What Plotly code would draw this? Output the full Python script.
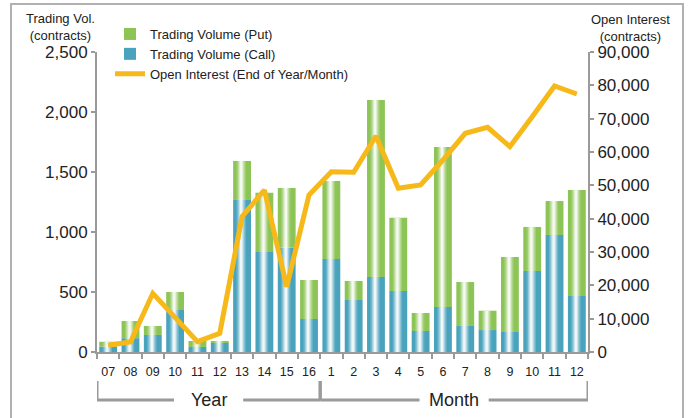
import plotly.graph_objects as go

# ---- data ----
period_labels = ["07", "08", "09", "10", "11", "12", "13", "14", "15", "16",
                 "1", "2", "3", "4", "5", "6", "7", "8", "9", "10", "11", "12"]
period_keys = ["Y07", "Y08", "Y09", "Y10", "Y11", "Y12", "Y13", "Y14", "Y15", "Y16",
               "M1", "M2", "M3", "M4", "M5", "M6", "M7", "M8", "M9", "M10", "M11", "M12"]
n_years = 10
n_months = 12
call_volume = [45, 115, 142, 350, 42, 78, 1267, 833, 869, 275,
               775, 433, 625, 508, 175, 375, 217, 183, 167, 675, 975, 467]
put_volume = [40, 143, 75, 150, 50, 14, 325, 495, 498, 325,
              650, 159, 1475, 611, 150, 1333, 366, 161, 625, 367, 283, 883]
open_interest = [2000, 3000, 17600, 10200, 3100, 5600, 40600, 48600, 19600, 47100,
                 54100, 53900, 64800, 49100, 50100, 57600, 65600, 67400, 61600, 70600, 79800, 77400]
total_volume = [c + p for c, p in zip(call_volume, put_volume)]

CALL_C = "#4aa3bd"
PUT_C = "#8cc455"
LINE_C = "#f6b919"
GRAY = "#9a9a9a"
FONT = "Liberation Sans"

BAR_W = 0.8

fig = go.Figure()
fig.add_bar(x=period_keys, y=call_volume, base=0, width=BAR_W, marker_color=CALL_C,
            marker_line_width=0, name="Trading Volume (Call)", legendrank=2)
fig.add_bar(x=period_keys, y=put_volume, base=call_volume, width=BAR_W, marker_color=PUT_C,
            marker_line_width=0, name="Trading Volume (Put)", legendrank=1)
# glossy stripe overlays
stripe_center = -0.04
for w, op in [(0.42, 0.18), (0.3, 0.3), (0.2, 0.45), (0.1, 0.75)]:
    fig.add_bar(x=period_keys, y=total_volume, base=0, width=w, offset=stripe_center - w / 2,
                marker_color="white", opacity=op, marker_line_width=0, showlegend=False,
                hoverinfo="skip")
fig.add_scatter(x=period_keys, y=open_interest, yaxis="y2", mode="lines",
                line=dict(color=LINE_C, width=5), name="Open Interest (End of Year/Month)",
                legendrank=3)

L, R, T, B = 97, 103, 52, 66
W, H = 691, 418
pw, ph = W - L - R, H - T - B

def px_x(x):
    return (x - L) / pw

def px_y(y):
    return (H - B - y) / ph

shapes = []
# outer frame
shapes.append(dict(type="rect", xref="paper", yref="paper", x0=px_x(11), x1=px_x(683),
                   y0=px_y(430), y1=px_y(4), line=dict(color="#b0b0b0", width=2),
                   fillcolor="rgba(0,0,0,0)", layer="below"))
# brackets
yv0, yv1 = px_y(381), px_y(400)
def bracket(a, b, gap_half):
    c = (a + b) / 2
    return [
        dict(type="line", xref="x", yref="paper", x0=a, x1=a, y0=yv0, y1=yv1),
        dict(type="line", xref="x", yref="paper", x0=b, x1=b, y0=yv0, y1=yv1),
        dict(type="line", xref="x", yref="paper", x0=a, x1=c - gap_half, y0=yv1, y1=yv1),
        dict(type="line", xref="x", yref="paper", x0=c + gap_half, x1=b, y0=yv1, y1=yv1),
    ]
year_a, year_b = -0.5, n_years - 0.5
mon_a, mon_b = n_years - 0.5, n_years + n_months - 0.5
for s in bracket(year_a, year_b, 1.55) + bracket(mon_a, mon_b, 1.55):
    s["line"] = dict(color=GRAY, width=3)
    shapes.append(s)

annotations = [
    dict(text="Year", x=(year_a + year_b) / 2, xref="x", y=yv1, yref="paper",
         showarrow=False, font=dict(size=18, color="#222"), yanchor="middle"),
    dict(text="Month", x=(mon_a + mon_b) / 2, xref="x", y=yv1, yref="paper",
         showarrow=False, font=dict(size=18, color="#222"), yanchor="middle"),
    dict(text="Trading Vol.<br>(contracts)", x=px_x(60), y=px_y(27), xref="paper", yref="paper",
         showarrow=False, font=dict(size=13, color="#222"), xanchor="center", yanchor="middle"),
    dict(text="Open Interest<br>(contracts)", x=px_x(630), y=px_y(28), xref="paper", yref="paper",
         showarrow=False, font=dict(size=13, color="#222"), xanchor="center", yanchor="middle"),
]

fig.update_layout(
    width=W, height=H,
    margin=dict(l=L, r=R, t=T, b=B, pad=0, autoexpand=False),
    paper_bgcolor="white", plot_bgcolor="white",
    barmode="overlay", bargap=0.2,
    font=dict(family=FONT, color="#222"),
    showlegend=True,
    legend=dict(x=px_x(110), y=px_y(19), xanchor="left", yanchor="top",
                bgcolor="rgba(0,0,0,0)", font=dict(size=13), tracegroupgap=0,
                itemwidth=30),
    xaxis=dict(type="category", range=[-0.5, len(period_keys) - 0.5],
               tickmode="array", tickvals=period_keys, ticktext=period_labels,
               tickson="boundaries", ticks="outside", ticklen=5, tickwidth=2, tickcolor=GRAY,
               showline=True, linecolor=GRAY, linewidth=2, showgrid=False, tickangle=0,
               ticklabelstandoff=7,
               tickfont=dict(size=12.5), fixedrange=True, automargin=False),
    yaxis=dict(range=[0, 2500], dtick=500, tickformat=",d", ticks="outside", ticklen=4,
               tickwidth=2, tickcolor=GRAY, showline=True, linecolor=GRAY, linewidth=2,
               showgrid=False, zeroline=False, tickfont=dict(size=17), automargin=False),
    yaxis2=dict(range=[0, 90000], dtick=10000, tickformat=",d", overlaying="y", side="right",
                ticks="outside", ticklen=4, tickwidth=2, tickcolor=GRAY, showline=True,
                linecolor=GRAY, linewidth=2, showgrid=False, zeroline=False,
                tickfont=dict(size=17), automargin=False),
    shapes=shapes,
    annotations=annotations,
)

fig.write_html("out.html", config={"displayModeBar": False},
               post_script="document.body.style.margin='0';document.body.style.padding='0';")
